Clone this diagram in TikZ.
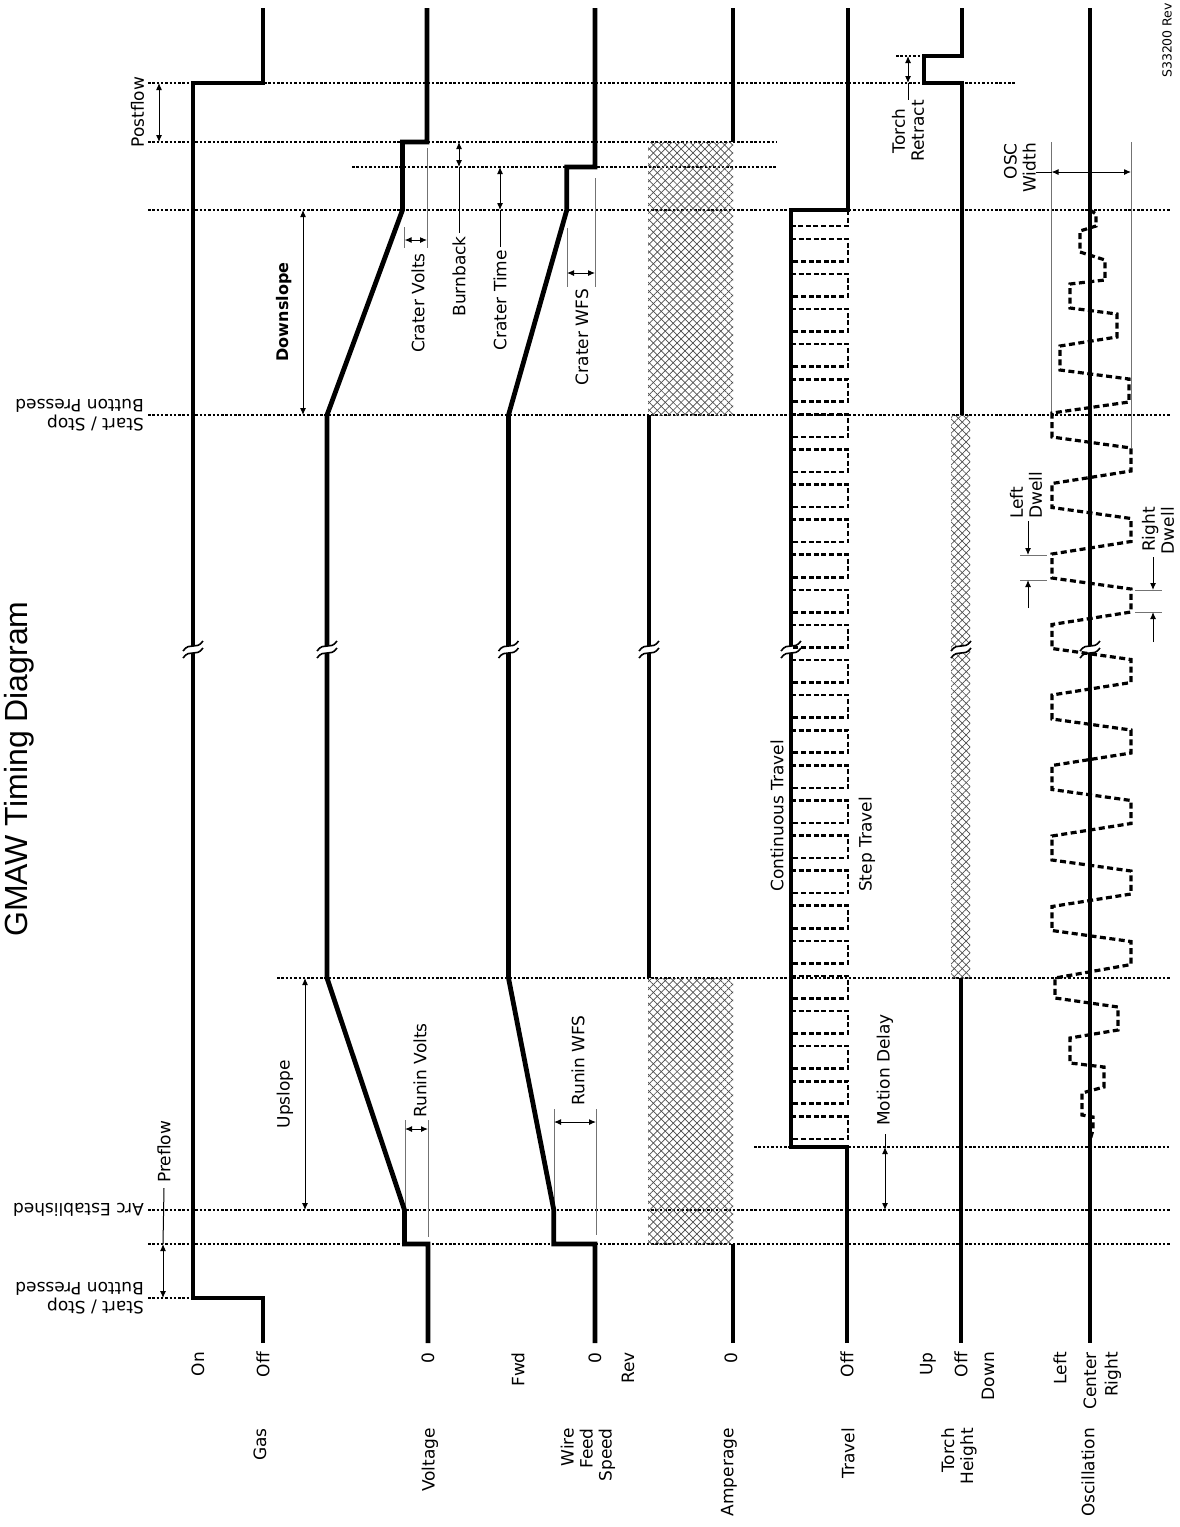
\documentclass[tikz,border=0pt]{standalone}
\usepackage{fontspec}
\usepackage{tikz}
\usetikzlibrary{arrows.meta, patterns.meta}
\newfontfamily\labfont{DejaVu Sans}
\newfontfamily\ttlfont{Liberation Sans}

\newcommand{\brkmark}[1]{%
  \fill[white] (#1-10,651) .. controls (#1-3,641) and (#1+3,651) .. (#1+10,641)
    -- (#1+10,648) .. controls (#1+3,658) and (#1-3,648) .. (#1-10,658) -- cycle;
  \draw[line width=1.6pt] (#1-10,651) .. controls (#1-3,641) and (#1+3,651) .. (#1+10,641);
  \draw[line width=1.6pt] (#1-10,658) .. controls (#1-3,648) and (#1+3,658) .. (#1+10,648);}

\begin{document}
\begin{tikzpicture}[x=1pt, y=-1pt, >={Latex[length=7pt,width=6pt]},
  every node/.style={font=\labfont\fontsize{17}{19}\selectfont, inner sep=0pt},
  sig/.style={line width=4.8pt},
  tline/.style={line width=1.3pt, dash pattern=on 2.5pt off 1.8pt},
  ext/.style={line width=0.9pt, black!55},
  dim/.style={line width=1pt, <->},
  lead/.style={line width=1pt},
  steptr/.style={line width=2.6pt, dash pattern=on 5pt off 2.6pt},
  oscwave/.style={line width=3.2pt, dash pattern=on 6pt off 3.5pt},
  hatch/.style={preaction={pattern={Lines[angle=45,distance=5.6pt,line width=0.7pt]}, pattern color=black!70},
    pattern={Lines[angle=-45,distance=5.6pt,line width=0.7pt]}, pattern color=black!70},
  vert/.style={rotate=90},
  flip/.style={rotate=180, anchor=west, align=left}]
  \useasboundingbox (0,0) rectangle (1180,1527);

  \draw[tline] (148,1298) -- (193,1298);
  \draw[tline] (148,1244) -- (1170,1244);
  \draw[tline] (148,1210) -- (1170,1210);
  \draw[tline] (754,1147) -- (1170,1147);
  \draw[tline] (277,978) -- (1170,978);
  \draw[tline] (148,415) -- (1170,415);
  \draw[tline] (148,210) -- (1170,210);
  \draw[tline] (352,167) -- (776,167);
  \draw[tline] (148,142) -- (776,142);
  \draw[tline] (148,83) -- (1015,83);
  \draw[tline] (896,56) -- (924,56);

  \fill[hatch] (648,978) rectangle (733,1244);
  \fill[hatch] (648,142) rectangle (733,415);
  \fill[hatch] (951,415) rectangle (970,978);

  \draw[ext] (405,1120) -- (405,1210);
  \draw[ext] (428,1120) -- (428,1237);
  \draw[ext] (554,1109) -- (554,1210);
  \draw[ext] (596,1109) -- (596,1235);
  \draw[ext] (404.6,227) -- (404.6,248);
  \draw[ext] (427,148) -- (427,248);
  \draw[ext] (567,228) -- (567,287);
  \draw[ext] (595,178) -- (595,287);
  \draw[ext] (1051.5,142) -- (1051.5,413);
  \draw[ext] (1131,142) -- (1131,448);
  \draw[ext] (1020,555) -- (1047,555);
  \draw[ext] (1020,580) -- (1047,580);
  \draw[ext] (1135,590) -- (1162,590);
  \draw[ext] (1135,612) -- (1162,612);

  \draw[sig] (263,1343) -- (263,1298) -- (193,1298) -- (193,83) -- (263,83) -- (263,8);
  \draw[sig] (428,1343) -- (428,1244) -- (404.5,1244) -- (404.5,1210) -- (327,978) -- (327,415)
    -- (402.5,210) -- (402.5,142) -- (427,142) -- (427,8);
  \draw[sig] (595,1343) -- (595,1244) -- (553.8,1244) -- (553.8,1210) -- (508.5,978) -- (508.5,415)
    -- (566.8,210) -- (566.8,167) -- (595,167) -- (595,8);
  \draw[sig] (733,1343) -- (733,1244);
  \draw[sig] (649,978) -- (649,415);
  \draw[sig] (733,142) -- (733,8);
  \draw[sig] (847,1343) -- (847,1147) -- (791,1147) -- (791,210) -- (848,210) -- (848,8);
  \draw[sig] (962,8) -- (962,56) -- (924,56) -- (924,83) -- (962,83) -- (962,415);
  \draw[sig] (961,978) -- (961,1343);
  \draw[sig] (1090,8) -- (1090,1343);

  \brkmark{193}
  \brkmark{327}
  \brkmark{508.5}
  \brkmark{649}
  \brkmark{791}
  \brkmark{961}
  \brkmark{1090}

  \foreach \k in {-5,...,20}
    \draw[steptr] (791,{414.3+35.1*\k}) -- ++(57,0) -- ++(0,22.5) -- ++(-57,0);
  \draw[steptr] (848,210) -- (848,226) -- (791,226);

  \draw[oscwave] (1090,210) -- (1096,214) -- (1096,226) -- (1080,231) -- (1080,252) -- (1105,260)
    -- (1105,280) -- (1070,284) -- (1070,308) -- (1117,314) -- (1117,337) -- (1060,346)
    -- (1060,370) -- (1129,379) -- (1129,402) -- (1052,413) -- (1052,437) -- (1131,448)
    -- (1131,471) -- (1052,483.5) -- (1052,507.5) -- (1131,518.5) -- (1131,541.5) -- (1052,554)
    -- (1052,578) -- (1131,589) -- (1131,612) -- (1052,624.5) -- (1052,648.5) -- (1131,659.5)
    -- (1131,682.5) -- (1052,695) -- (1052,719) -- (1131,730) -- (1131,753) -- (1052,765.5)
    -- (1052,789.5) -- (1131,800.5) -- (1131,823.5) -- (1052,836) -- (1052,860) -- (1131,871)
    -- (1131,894) -- (1052,906.5) -- (1052,930.5) -- (1131,941.5) -- (1131,964.5) -- (1055,978)
    -- (1055,998) -- (1118,1007) -- (1118,1030) -- (1070,1038) -- (1070,1063) -- (1104,1067)
    -- (1104,1087) -- (1082,1093) -- (1082,1115) -- (1093,1117) -- (1093,1130) -- (1090,1140);

  \draw[dim] (163,1244) -- (163,1298);
  \draw[dim] (159,83) -- (159,142);
  \draw[dim] (303,210) -- (303,415);
  \draw[dim] (305,978) -- (305,1210);
  \draw[dim] (405,1129) -- (428,1129);
  \draw[dim] (554,1122) -- (596,1122);
  \draw[dim] (404.6,240) -- (427,240);
  \draw[dim] (567,273) -- (595,273);
  \draw[dim] (459,142) -- (459,167);
  \draw[dim] (500,167) -- (500,210);
  \draw[dim] (885,1147) -- (885,1210);
  \draw[dim] (908,56) -- (908,83);
  \draw[dim] (1051.5,172) -- (1131,172);

  \node[vert, anchor=west, font=\ttlfont\fontsize{32}{38}\selectfont] (title) at (19,937) {GMAW Timing Diagram};
  \node[vert, anchor=west, font=\labfont\fontsize{12.5}{14}\selectfont] (rev) at (1167,78) {S33200 Rev};

  \node[flip] (start1) at (144,1298) {Start / Stop\\Button Pressed};
  \node[flip] (arc) at (144,1210) {Arc Established};
  \node[flip] (start2) at (144,415) {Start / Stop\\Button Pressed};

  \node[vert, anchor=west] (preflow) at (164,1183) {Preflow};
  \draw[lead] ([yshift=-5pt]preflow.west) -- (163,1244);
  \node[vert] (postflow) at (137.5,112) {Postflow};
  \node[vert, font=\labfont\fontsize{16}{19}\selectfont\bfseries] (downslope) at (284,312) {Downslope};
  \node[vert] (upslope) at (285,1094) {Upslope};
  \node[vert, anchor=west] (runinv) at (420,1118) {Runin Volts};
  \node[vert, anchor=west] (runinw) at (578,1106) {Runin WFS};
  \node[vert, anchor=east] (craterv) at (418,253) {Crater Volts};
  \node[vert, anchor=east] (craterw) at (582,289) {Crater WFS};
  \node[vert, anchor=east] (burnback) at (459,236) {Burnback};
  \draw[lead] ([yshift=3pt]burnback.east) -- (459,167);
  \node[vert, anchor=east] (cratert) at (500,250) {Crater Time};
  \draw[lead] ([yshift=3pt]cratert.east) -- (500,210);
  \node[vert, anchor=west] (motion) at (885,1126) {Motion Delay};
  \draw[lead] ([yshift=-8pt]motion.west) -- (885,1147);
  \node[vert, anchor=east, align=center] (retract) at (908,100) {Torch\\Retract};
  \draw[lead] (908,83) -- (retract.east);
  \node[vert, anchor=east, align=right] (oscwidth) at (1020,143) {OSC\\Width};
  \draw[lead] (oscwidth.south |- 0,172) -- (1051.5,172);
  \node[vert, anchor=west, align=left] (ldwell) at (1026,519) {Left\\Dwell};
  \draw[lead, ->] ([yshift=-2pt]ldwell.west -| 1028,0) -- (1028,555);
  \draw[lead, ->] (1028,608) -- (1028,580);
  \node[vert, anchor=east, align=right] (rdwell) at (1158,507) {Right\\Dwell};
  \draw[lead, ->] ([yshift=-3pt]rdwell.west -| 1153,0) -- (1153,590);
  \draw[lead, ->] (1153,642) -- (1153,612);
  \node[vert, anchor=west] (ctravel) at (777,892) {Continuous Travel};
  \node[vert, anchor=west] (stravel) at (867,892) {Step Travel};

  \node[vert, anchor=east] (gon) at (198,1352) {On};
  \node[vert, anchor=east] (goff) at (263,1352) {Off};
  \node[vert, anchor=east] (vzero) at (428,1352) {0};
  \node[vert, anchor=east] (wfwd) at (518,1352) {Fwd};
  \node[vert, anchor=east] (wzero) at (595,1352) {0};
  \node[vert, anchor=east] (wrev) at (628,1352) {Rev};
  \node[vert, anchor=east] (azero) at (731,1352) {0};
  \node[vert, anchor=east] (toff) at (847,1352) {Off};
  \node[vert, anchor=east] (hup) at (928,1352) {Up};
  \node[vert, anchor=east] (hoff) at (961,1352) {Off};
  \node[vert, anchor=east] (hdown) at (988,1352) {Down};
  \node[vert, anchor=east] (oleft) at (1060,1352) {Left};
  \node[vert, anchor=east] (ocenter) at (1090,1352) {Center};
  \node[vert, anchor=east] (oright) at (1113,1352) {Right};

  \node[vert, anchor=east] (lgas) at (260,1428) {Gas};
  \node[vert, anchor=east] (lvolt) at (430,1428) {Voltage};
  \node[vert, anchor=east, align=right] (lwfs) at (588,1428) {Wire\\Feed\\Speed};
  \node[vert, anchor=east] (lamp) at (729,1428) {Amperage};
  \node[vert, anchor=east] (ltravel) at (848,1428) {Travel};
  \node[vert, anchor=east, align=right] (lheight) at (959,1428) {Torch\\Height};
  \node[vert, anchor=east] (losc) at (1088,1428) {Oscillation};
\end{tikzpicture}
\end{document}
